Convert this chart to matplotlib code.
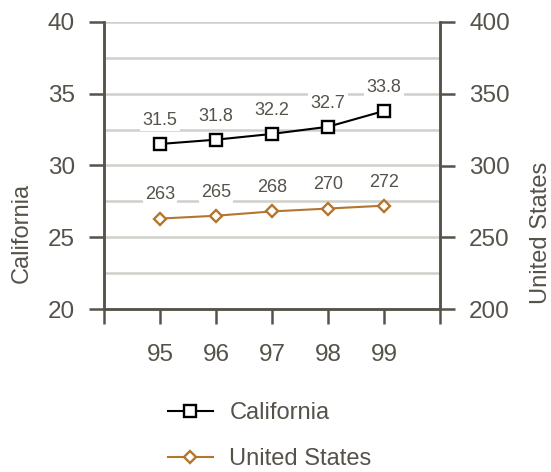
import numpy as np
import matplotlib
matplotlib.use("Agg")
import matplotlib.pyplot as plt
from matplotlib.lines import Line2D

# Values by school year
years = [95, 96, 97, 98, 99]
california = [31.5, 31.8, 32.2, 32.7, 33.8]
united_states = [263, 265, 268, 270, 272]

TEXT = "#55524a"
SPINE = "#57534a"
GRID = "#cfd0ca"
ORANGE = "#b3762c"

plt.rcParams["font.family"] = ["Liberation Sans", "DejaVu Sans"]

fig = plt.figure(figsize=(5.51, 4.72), dpi=100)
ax = fig.add_axes([104 / 551, 1 - 309 / 472, 336 / 551, 287 / 472])
ax2 = ax.twinx()

ax.set_xlim(94, 100)
ax.set_ylim(20, 40)
ax2.set_ylim(200, 400)

# horizontal guides every 2.5 units
for y in np.arange(22.5, 40.01, 2.5):
    ax.axhline(y, color=GRID, lw=1.8, zorder=0)

ax.plot(years, california, color="black", lw=1.5, marker="s", ms=8.5,
        mfc="white", mec="black", mew=1.7, zorder=3)
ax2.plot(years, united_states, color=ORANGE, lw=1.5, marker="D", ms=6,
         mfc="white", mec=ORANGE, mew=1.7, zorder=3)

box = dict(boxstyle="square,pad=0.12", fc="white", ec="none")
for x, v in zip(years, california):
    ax.annotate(f"{v:.1f}", (x, v), xytext=(0, 17), textcoords="offset points",
                ha="center", va="center", fontsize=13, color=TEXT, bbox=box, zorder=2)
for x, v in zip(years, united_states):
    ax2.annotate(f"{v}", (x, v), xytext=(0, 17), textcoords="offset points",
                 ha="center", va="center", fontsize=13, color=TEXT, bbox=box, zorder=2)

for a in (ax, ax2):
    a.spines["top"].set_visible(False)
    for s in ("left", "right", "bottom"):
        a.spines[s].set_color(SPINE)
        a.spines[s].set_linewidth(1.8)
    a.tick_params(colors=SPINE, labelcolor=TEXT, length=11, width=1.8,
                  labelsize=17.5, direction="out")
    a.set_zorder(1)
ax.patch.set_visible(False)
ax2.patch.set_visible(False)

ax.set_xticks(np.arange(94, 101))
ax.set_xticklabels([""] + [str(y) for y in years] + [""])
ax.tick_params(axis="x", pad=14)
ax.set_yticks(np.arange(20, 41, 5))
ax2.set_yticks(np.arange(200, 401, 50))
ax.tick_params(axis="y", pad=10)
ax2.tick_params(axis="y", pad=10)

ax.set_ylabel("California", fontsize=17, color=TEXT)
ax.yaxis.set_label_coords(-0.212, 0.265)
ax2.set_ylabel("United States", fontsize=17, color=TEXT)
ax2.yaxis.set_label_coords(1.268, 0.265)

handles = [
    Line2D([], [], color="black", lw=1.5, marker="s", ms=8.5, mfc="white",
           mec="black", mew=1.7),
    Line2D([], [], color=ORANGE, lw=1.5, marker="D", ms=6, mfc="white",
           mec=ORANGE, mew=1.7),
]
fig.legend(handles, ["California", "United States"], loc="center left",
           bbox_to_anchor=(168 / 551, 1 - 436 / 472), frameon=False,
           fontsize=17, labelcolor=TEXT, handlelength=1.9, handletextpad=0.7,
           labelspacing=1.0, borderpad=0, borderaxespad=0)

fig.savefig("out.png", dpi=100)
